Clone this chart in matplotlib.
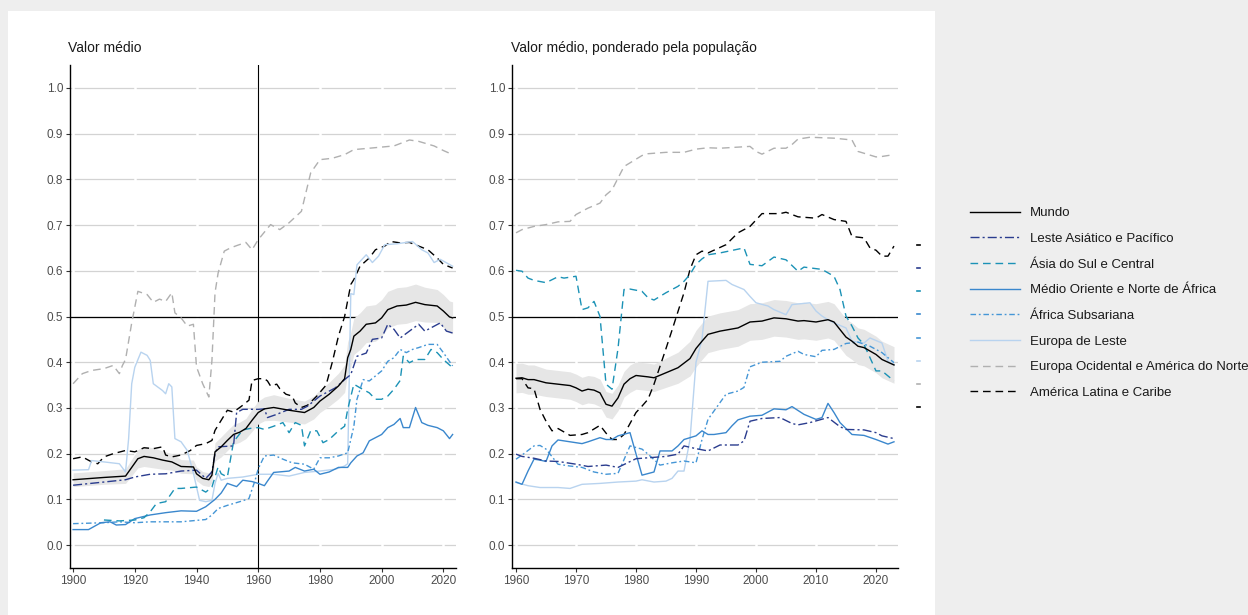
"""
Valor médio por região, 1900-2023 e 1960-2023 (ponderado pela população)
"""
import matplotlib.pyplot as plt
from matplotlib.lines import Line2D
from matplotlib.patches import Rectangle
import numpy as np

plt.rcParams['font.family'] = ['Liberation Sans', 'DejaVu Sans']

# ---- Painel esquerdo: valor médio ----
anos_mundo_esq = [1900, 1910, 1917, 1921, 1923, 1926, 1929, 1932, 1935, 1939, 1940, 1942, 1944, 1945, 1946,
                  1948, 1950, 1952, 1954, 1956, 1958, 1960, 1962, 1965, 1970, 1975, 1978, 1980, 1983, 1986,
                  1988, 1989, 1990, 1991, 1993, 1995, 1998, 2000, 2002, 2005, 2008, 2011, 2014, 2018, 2020,
                  2022, 2023]
mundo_esq = [0.143, 0.148, 0.151, 0.189, 0.194, 0.191, 0.186, 0.182, 0.172, 0.171, 0.156, 0.146, 0.143, 0.153,
             0.204, 0.215, 0.229, 0.242, 0.247, 0.255, 0.273, 0.29, 0.298, 0.301, 0.295, 0.29, 0.301, 0.315,
             0.33, 0.348, 0.364, 0.41, 0.428, 0.457, 0.468, 0.483, 0.486, 0.497, 0.515, 0.523, 0.525, 0.531,
             0.526, 0.523, 0.512, 0.499, 0.497]
mundo_esq_ic = [0.015, 0.015, 0.016, 0.02, 0.022, 0.022, 0.02, 0.018, 0.015, 0.015, 0.015, 0.015, 0.015, 0.016,
                0.02, 0.022, 0.022, 0.022, 0.022, 0.022, 0.024, 0.025, 0.026, 0.028, 0.026, 0.025, 0.025, 0.025,
                0.026, 0.028, 0.03, 0.035, 0.038, 0.04, 0.04, 0.04, 0.04, 0.04, 0.04, 0.04, 0.04, 0.04,
                0.038, 0.036, 0.036, 0.035, 0.035]

anos_leste_asia_esq = [1900, 1910, 1917, 1920, 1925, 1930, 1935, 1940, 1941, 1943, 1945, 1946, 1947, 1952, 1953,
                       1955, 1960, 1962, 1963, 1966, 1970, 1974, 1976, 1980, 1985, 1988, 1990, 1992, 1995, 1997,
                       2000, 2002, 2004, 2006, 2009, 2012, 2014, 2019, 2021, 2023]
leste_asia_esq = [0.131, 0.138, 0.143, 0.149, 0.155, 0.156, 0.162, 0.164, 0.158, 0.146, 0.16, 0.2, 0.215, 0.217,
                  0.29, 0.297, 0.297, 0.298, 0.279, 0.286, 0.297, 0.297, 0.304, 0.326, 0.344, 0.362, 0.373,
                  0.413, 0.42, 0.45, 0.453, 0.483, 0.472, 0.453, 0.468, 0.483, 0.468, 0.486, 0.468, 0.464]

anos_asia_sul_esq = [1910, 1915, 1920, 1923, 1925, 1927, 1930, 1933, 1935, 1940, 1943, 1945, 1947, 1948, 1950,
                     1952, 1955, 1958, 1960, 1962, 1965, 1968, 1970, 1972, 1974, 1975, 1977, 1979, 1981, 1983,
                     1986, 1988, 1989, 1991, 1993, 1996, 1998, 2000, 2002, 2004, 2006, 2007, 2009, 2011, 2014,
                     2016, 2018, 2020, 2023]
asia_sul_esq = [0.055, 0.053, 0.055, 0.06, 0.073, 0.091, 0.095, 0.124, 0.124, 0.127, 0.116, 0.127, 0.171, 0.156,
                0.149, 0.226, 0.252, 0.256, 0.257, 0.253, 0.26, 0.268, 0.246, 0.268, 0.262, 0.217, 0.25, 0.25,
                0.224, 0.231, 0.25, 0.26, 0.297, 0.352, 0.344, 0.333, 0.319, 0.319, 0.326, 0.341, 0.36, 0.413,
                0.399, 0.406, 0.406, 0.428, 0.421, 0.406, 0.388]

anos_mena_esq = [1900, 1905, 1909, 1912, 1914, 1917, 1920, 1925, 1930, 1935, 1940, 1943, 1946, 1948, 1950, 1953,
                 1955, 1958, 1960, 1962, 1963, 1965, 1970, 1972, 1975, 1978, 1980, 1983, 1986, 1989, 1990, 1992,
                 1994, 1996, 1998, 2000, 2002, 2004, 2006, 2007, 2009, 2011, 2013, 2015, 2018, 2020, 2022, 2023]
mena_esq = [0.034, 0.034, 0.049, 0.051, 0.044, 0.045, 0.058, 0.066, 0.071, 0.075, 0.074, 0.084, 0.1, 0.114, 0.135,
            0.128, 0.142, 0.139, 0.135, 0.13, 0.14, 0.159, 0.162, 0.17, 0.162, 0.166, 0.155, 0.16, 0.17, 0.17,
            0.18, 0.195, 0.202, 0.228, 0.235, 0.242, 0.257, 0.264, 0.277, 0.257, 0.257, 0.301, 0.268, 0.262,
            0.257, 0.25, 0.233, 0.242]

anos_africa_esq = [1900, 1910, 1915, 1920, 1925, 1935, 1943, 1945, 1947, 1950, 1955, 1957, 1959, 1960, 1962, 1965,
                   1968, 1971, 1975, 1978, 1980, 1983, 1986, 1989, 1991, 1992, 1994, 1996, 1998, 2000, 2002, 2004,
                   2006, 2008, 2010, 2012, 2015, 2018, 2020, 2023]
africa_esq = [0.047, 0.049, 0.051, 0.049, 0.051, 0.051, 0.056, 0.066, 0.08, 0.087, 0.097, 0.102, 0.142, 0.167,
              0.195, 0.197, 0.188, 0.18, 0.177, 0.166, 0.191, 0.191, 0.195, 0.202, 0.26, 0.319, 0.362, 0.359,
              0.37, 0.381, 0.402, 0.41, 0.428, 0.421, 0.428, 0.432, 0.439, 0.439, 0.421, 0.392]

anos_eur_leste_esq = [1900, 1905, 1906, 1910, 1915, 1917, 1918, 1919, 1920, 1922, 1924, 1925, 1926, 1929, 1930,
                      1931, 1932, 1933, 1935, 1937, 1939, 1941, 1943, 1945, 1946, 1947, 1948, 1950, 1955, 1960,
                      1965, 1970, 1975, 1980, 1985, 1988, 1989, 1990, 1991, 1992, 1995, 1997, 1999, 2001, 2005,
                      2010, 2013, 2015, 2017, 2019, 2023]
eur_leste_esq = [0.164, 0.165, 0.185, 0.182, 0.178, 0.16, 0.233, 0.353, 0.389, 0.422, 0.415, 0.404, 0.353, 0.338,
                 0.331, 0.353, 0.346, 0.233, 0.226, 0.207, 0.157, 0.098, 0.095, 0.098, 0.135, 0.157, 0.142, 0.146,
                 0.149, 0.155, 0.155, 0.151, 0.159, 0.162, 0.166, 0.173, 0.178, 0.55, 0.548, 0.613, 0.635, 0.618,
                 0.632, 0.657, 0.659, 0.664, 0.646, 0.639, 0.618, 0.625, 0.61]

anos_eur_oc_esq = [1900, 1903, 1906, 1910, 1913, 1915, 1916, 1917, 1919, 1921, 1924, 1926, 1928, 1930, 1932, 1933,
                   1935, 1937, 1939, 1940, 1942, 1944, 1945, 1946, 1947, 1949, 1951, 1953, 1956, 1958, 1960, 1964,
                   1967, 1970, 1974, 1977, 1980, 1984, 1988, 1991, 1996, 2004, 2009, 2012, 2017, 2020, 2023]
eur_oc_esq = [0.353, 0.375, 0.382, 0.386, 0.393, 0.375, 0.393, 0.406, 0.486, 0.555, 0.548, 0.531, 0.538, 0.533,
              0.552, 0.508, 0.497, 0.479, 0.483, 0.39, 0.353, 0.324, 0.404, 0.552, 0.595, 0.643, 0.65, 0.655,
              0.662, 0.646, 0.668, 0.701, 0.69, 0.705, 0.73, 0.814, 0.843, 0.846, 0.854, 0.865, 0.868, 0.873,
              0.886, 0.883, 0.873, 0.863, 0.854]

anos_am_latina_esq = [1900, 1903, 1906, 1908, 1910, 1913, 1917, 1920, 1923, 1926, 1929, 1930, 1932, 1935, 1938,
                      1940, 1943, 1945, 1946, 1948, 1950, 1952, 1955, 1957, 1958, 1960, 1962, 1963, 1964, 1966,
                      1967, 1969, 1971, 1972, 1974, 1976, 1979, 1982, 1984, 1986, 1988, 1990, 1991, 1993, 1996,
                      1998, 2001, 2003, 2006, 2009, 2012, 2015, 2018, 2020, 2023]
am_latina_esq = [0.189, 0.193, 0.182, 0.178, 0.193, 0.2, 0.207, 0.204, 0.213, 0.211, 0.215, 0.197, 0.193, 0.197,
                 0.207, 0.218, 0.222, 0.229, 0.251, 0.273, 0.295, 0.291, 0.306, 0.317, 0.36, 0.364, 0.364, 0.359,
                 0.348, 0.352, 0.342, 0.33, 0.326, 0.311, 0.301, 0.306, 0.326, 0.35, 0.4, 0.457, 0.5, 0.57,
                 0.581, 0.61, 0.628, 0.646, 0.654, 0.664, 0.661, 0.662, 0.654, 0.646, 0.628, 0.614, 0.606]

# ---- Painel direito: valor médio ponderado pela população ----
anos_mundo_dir = [1960, 1961, 1962, 1963, 1965, 1967, 1969, 1970, 1971, 1972, 1973, 1974, 1975, 1976, 1977,
                  1978, 1979, 1980, 1982, 1983, 1985, 1987, 1988, 1989, 1990, 1991, 1992, 1994, 1997, 1999,
                  2001, 2003, 2005, 2007, 2008, 2010, 2012, 2013, 2015, 2016, 2017, 2018, 2020, 2021, 2023]
mundo_dir = [0.365, 0.366, 0.362, 0.362, 0.355, 0.352, 0.349, 0.344, 0.337, 0.341, 0.339, 0.333, 0.308, 0.304,
             0.322, 0.352, 0.364, 0.371, 0.368, 0.366, 0.377, 0.388, 0.398, 0.408, 0.43, 0.446, 0.461, 0.468,
             0.475, 0.488, 0.49, 0.497, 0.495, 0.49, 0.491, 0.488, 0.493, 0.488, 0.455, 0.446, 0.435, 0.432,
             0.417, 0.406, 0.394]
mundo_dir_ic = [0.032, 0.032, 0.032, 0.032, 0.03, 0.03, 0.03, 0.03, 0.03, 0.03, 0.03, 0.03, 0.028, 0.028, 0.028,
                0.028, 0.03, 0.03, 0.03, 0.03, 0.032, 0.034, 0.036, 0.038, 0.04, 0.04, 0.04, 0.04, 0.04, 0.04,
                0.04, 0.04, 0.04, 0.04, 0.04, 0.04, 0.04, 0.04, 0.04, 0.04, 0.04, 0.04, 0.04, 0.04, 0.04]

anos_leste_asia_dir = [1960, 1961, 1963, 1965, 1967, 1970, 1972, 1975, 1977, 1980, 1982, 1985, 1987, 1988, 1990,
                       1992, 1994, 1997, 1998, 1999, 2001, 2004, 2006, 2007, 2009, 2012, 2014, 2015, 2018, 2020,
                       2021, 2023]
leste_asia_dir = [0.199, 0.194, 0.19, 0.184, 0.183, 0.177, 0.172, 0.175, 0.17, 0.189, 0.191, 0.194, 0.199, 0.217,
                  0.211, 0.206, 0.219, 0.219, 0.228, 0.271, 0.277, 0.279, 0.266, 0.263, 0.268, 0.279, 0.259,
                  0.253, 0.252, 0.246, 0.239, 0.233]

anos_asia_sul_dir = [1960, 1961, 1962, 1963, 1965, 1967, 1968, 1970, 1971, 1972, 1973, 1974, 1975, 1976, 1977,
                     1978, 1979, 1981, 1982, 1983, 1985, 1986, 1987, 1988, 1989, 1990, 1991, 1992, 1994, 1998,
                     1999, 2001, 2003, 2005, 2007, 2008, 2011, 2013, 2014, 2015, 2016, 2017, 2018, 2019, 2020,
                     2021, 2023]
asia_sul_dir = [0.601, 0.599, 0.584, 0.579, 0.574, 0.587, 0.584, 0.588, 0.515, 0.519, 0.533, 0.5, 0.352, 0.341,
                0.43, 0.559, 0.56, 0.555, 0.541, 0.536, 0.552, 0.559, 0.566, 0.577, 0.592, 0.614, 0.626, 0.635,
                0.639, 0.65, 0.614, 0.611, 0.63, 0.624, 0.599, 0.608, 0.603, 0.588, 0.559, 0.501, 0.479, 0.453,
                0.439, 0.41, 0.381, 0.381, 0.359]

anos_mena_dir = [1960, 1961, 1962, 1963, 1964, 1965, 1966, 1967, 1969, 1971, 1972, 1974, 1975, 1976, 1977, 1979,
                 1981, 1983, 1984, 1986, 1987, 1988, 1990, 1991, 1992, 1993, 1995, 1996, 1997, 1999, 2001, 2003,
                 2005, 2006, 2008, 2010, 2011, 2012, 2013, 2014, 2016, 2018, 2020, 2022, 2023]
mena_dir = [0.138, 0.133, 0.162, 0.188, 0.186, 0.183, 0.217, 0.23, 0.226, 0.222, 0.226, 0.235, 0.231, 0.231,
            0.239, 0.246, 0.153, 0.16, 0.206, 0.206, 0.217, 0.231, 0.239, 0.25, 0.242, 0.242, 0.246, 0.261,
            0.274, 0.282, 0.284, 0.298, 0.296, 0.303, 0.286, 0.275, 0.279, 0.31, 0.29, 0.268, 0.242, 0.24,
            0.231, 0.221, 0.226]

anos_africa_dir = [1960, 1961, 1963, 1964, 1965, 1967, 1969, 1971, 1973, 1975, 1977, 1979, 1981, 1982, 1984, 1986,
                   1988, 1990, 1991, 1992, 1995, 1997, 1998, 1999, 2001, 2004, 2005, 2007, 2008, 2010, 2011, 2013,
                   2015, 2017, 2019, 2021, 2023]
africa_dir = [0.188, 0.197, 0.217, 0.218, 0.21, 0.177, 0.173, 0.17, 0.16, 0.155, 0.157, 0.217, 0.21, 0.199, 0.175,
              0.18, 0.184, 0.18, 0.231, 0.275, 0.33, 0.337, 0.345, 0.39, 0.4, 0.402, 0.413, 0.424, 0.417, 0.412,
              0.426, 0.428, 0.441, 0.444, 0.435, 0.421, 0.399]

anos_eur_leste_dir = [1960, 1962, 1964, 1967, 1969, 1971, 1974, 1977, 1980, 1981, 1983, 1985, 1986, 1987, 1988,
                      1989, 1990, 1991, 1992, 1995, 1996, 1998, 1999, 2000, 2002, 2003, 2005, 2006, 2009, 2010,
                      2011, 2012, 2013, 2015, 2016, 2018, 2019, 2021, 2022, 2023]
eur_leste_dir = [0.137, 0.13, 0.126, 0.126, 0.124, 0.133, 0.135, 0.138, 0.14, 0.143, 0.138, 0.14, 0.146, 0.162,
                 0.162, 0.231, 0.4, 0.45, 0.577, 0.579, 0.57, 0.559, 0.544, 0.53, 0.523, 0.515, 0.504, 0.526,
                 0.53, 0.512, 0.501, 0.493, 0.486, 0.475, 0.446, 0.442, 0.453, 0.442, 0.402, 0.395]

anos_eur_oc_dir = [1960, 1961, 1963, 1965, 1967, 1969, 1970, 1972, 1974, 1975, 1976, 1978, 1979, 1981, 1982, 1985,
                   1988, 1990, 1992, 1994, 1999, 2000, 2001, 2003, 2005, 2006, 2007, 2009, 2013, 2016, 2017, 2020,
                   2021, 2023]
eur_oc_dir = [0.683, 0.69, 0.697, 0.701, 0.707, 0.708, 0.723, 0.737, 0.748, 0.766, 0.777, 0.828, 0.836, 0.852,
              0.856, 0.859, 0.859, 0.866, 0.869, 0.868, 0.872, 0.861, 0.855, 0.868, 0.868, 0.876, 0.888, 0.892,
              0.89, 0.886, 0.861, 0.849, 0.85, 0.854]

anos_am_latina_dir = [1960, 1961, 1962, 1963, 1964, 1965, 1966, 1967, 1969, 1971, 1972, 1974, 1975, 1976, 1977,
                      1978, 1980, 1981, 1982, 1983, 1985, 1986, 1988, 1989, 1990, 1991, 1992, 1995, 1997, 1999,
                      2001, 2004, 2005, 2007, 2010, 2011, 2013, 2015, 2016, 2018, 2019, 2020, 2021, 2022, 2023]
am_latina_dir = [0.364, 0.364, 0.344, 0.342, 0.297, 0.271, 0.25, 0.255, 0.24, 0.242, 0.246, 0.262, 0.245, 0.231,
                 0.231, 0.242, 0.29, 0.304, 0.319, 0.352, 0.43, 0.47, 0.552, 0.603, 0.635, 0.643, 0.639, 0.657,
                 0.683, 0.697, 0.725, 0.725, 0.728, 0.718, 0.715, 0.723, 0.712, 0.708, 0.675, 0.672, 0.65, 0.645,
                 0.632, 0.632, 0.654]

# Estilo das séries (mesma ordem da legenda)
ROTULOS = ['Mundo', 'Leste Asiático e Pacífico', 'Ásia do Sul e Central',
           'Médio Oriente e Norte de África', 'África Subsariana', 'Europa de Leste',
           'Europa Ocidental e América do Norte', 'América Latina e Caribe']
CORES = ['#000000', '#2a3c8e', '#1b92b6', '#3a87cd', '#4596d6', '#b8d3ef', '#b0b0b0', '#000000']
TRACOS = [None, (6.5, 2.2, 1.5, 2.2), (5.5, 3.5), None, (4.0, 2.0, 1.3, 2.0), None, (5.5, 3.5), (5.5, 3.5)]


def estilo_linha(i):
    kw = dict(color=CORES[i], lw=1.0)
    if TRACOS[i] is None:
        kw['linestyle'] = '-'
    else:
        kw['dashes'] = TRACOS[i]
    return kw


def desenhar_painel(ax, series, anos_ic, ic, xlim, xticks):
    ax.set_xlim(*xlim)
    ax.set_ylim(-0.05, 1.05)
    yt = np.arange(0, 11) / 10
    for v in yt:
        ax.axhline(v, color='#d3d3d3', lw=0.9, zorder=0.5)
    for x in xticks:
        ax.axvline(x, color='white', lw=1.8, zorder=0.6)
    ax.axhline(0.5, color='black', lw=0.9, zorder=0.8)

    anos_m, mundo = series[0]
    lo = np.array(mundo) - np.array(ic)
    hi = np.array(mundo) + np.array(ic)
    ax.fill_between(anos_ic, lo, hi, color='#e6e6e6', lw=0, zorder=1)

    for i in range(len(series) - 1, -1, -1):
        anos, vals = series[i]
        ax.plot(anos, vals, zorder=2 + (i == 0), **estilo_linha(i))

    ax.set_xticks(xticks)
    ax.set_yticks(yt)
    ax.set_yticklabels([f'{v:.1f}' for v in yt])
    for lado in ['top', 'right']:
        ax.spines[lado].set_visible(False)
    for lado in ['left', 'bottom']:
        ax.spines[lado].set_linewidth(1.0)
        ax.spines[lado].set_color('black')
    ax.tick_params(length=3, width=0.8, color='#333333', labelsize=8.5,
                   labelcolor='#4d4d4d', pad=2)
    ax.set_facecolor('none')


series_esq = [(anos_mundo_esq, mundo_esq), (anos_leste_asia_esq, leste_asia_esq),
              (anos_asia_sul_esq, asia_sul_esq), (anos_mena_esq, mena_esq),
              (anos_africa_esq, africa_esq), (anos_eur_leste_esq, eur_leste_esq),
              (anos_eur_oc_esq, eur_oc_esq), (anos_am_latina_esq, am_latina_esq)]
series_dir = [(anos_mundo_dir, mundo_dir), (anos_leste_asia_dir, leste_asia_dir),
              (anos_asia_sul_dir, asia_sul_dir), (anos_mena_dir, mena_dir),
              (anos_africa_dir, africa_dir), (anos_eur_leste_dir, eur_leste_dir),
              (anos_eur_oc_dir, eur_oc_dir), (anos_am_latina_dir, am_latina_dir)]

W, H = 1248, 615
fig = plt.figure(figsize=(W / 100, H / 100), dpi=100, facecolor='#eeeeee')
fig.patches.append(Rectangle((8 / W, 0), 927 / W, 604 / H, transform=fig.transFigure,
                             facecolor='white', edgecolor='none', zorder=-10))

ax1 = fig.add_axes([70 / W, 47 / H, 386 / W, 503 / H])
ax2 = fig.add_axes([512 / W, 47 / H, 386 / W, 503 / H])

desenhar_painel(ax1, series_esq, anos_mundo_esq, mundo_esq_ic, (1899.0, 2024.1),
                list(range(1900, 2021, 20)))
ax1.axvline(1960, color='black', lw=0.8, zorder=0.9)
desenhar_painel(ax2, series_dir, anos_mundo_dir, mundo_dir_ic, (1959.33, 2023.67),
                list(range(1960, 2021, 10)))

fig.text(68 / W, 1 - 48 / H, 'Valor médio', ha='left', va='center', fontsize=10, color='#1a1a1a')
fig.text(511 / W, 1 - 48 / H, 'Valor médio, ponderado pela população', ha='left', va='center',
         fontsize=10, color='#1a1a1a')

# Legenda
handles = [Line2D([], [], **estilo_linha(i)) for i in range(len(ROTULOS))]
fig.legend(handles, ROTULOS, loc='upper left', bbox_to_anchor=(970 / W, 1 - 207 / H),
           frameon=False, fontsize=9.5, handlelength=3.8, handletextpad=0.75,
           labelspacing=1.02, borderpad=0, borderaxespad=0, labelcolor='#1a1a1a')

# restos de uma legenda cortada na margem do painel
for cor, y in zip(CORES, np.linspace(245, 407, len(CORES))):
    fig.add_artist(Line2D([917 / W, 920 / W], [1 - y / H, 1 - y / H], color=cor, lw=1.2,
                          transform=fig.transFigure))

fig.savefig('out.png', dpi=100, facecolor=fig.get_facecolor())
